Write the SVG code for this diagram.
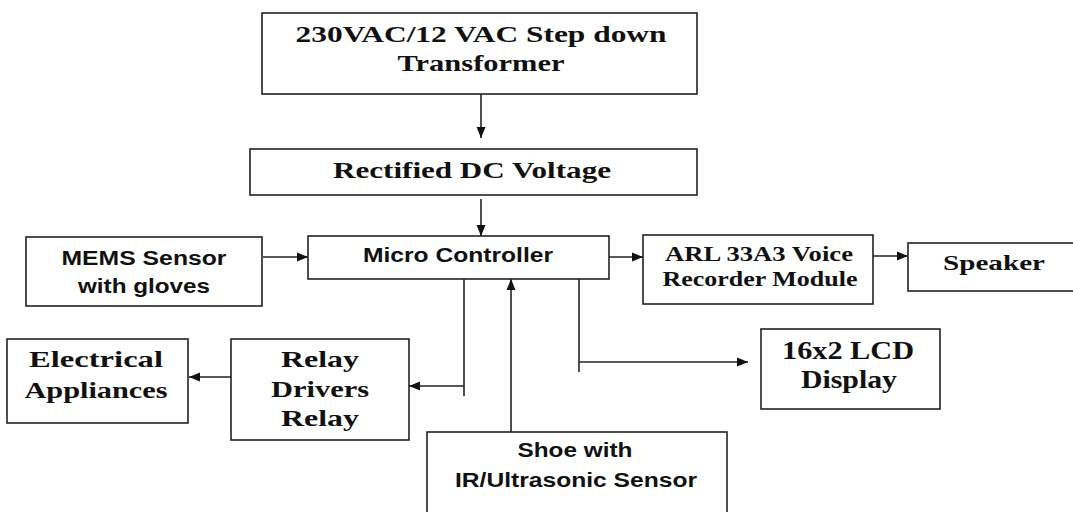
<svg xmlns="http://www.w3.org/2000/svg" width="1073" height="512" viewBox="0 0 1073 512">
<style>
.box{fill:#fff;stroke:#222;stroke-width:1.6}
.ln{fill:none;stroke:#222;stroke-width:1.6}
.ser{font-family:"Liberation Serif","Times New Roman",serif;font-weight:bold;fill:#111;text-anchor:middle}
.san{font-family:"Liberation Sans",Arial,sans-serif;font-weight:bold;fill:#111;text-anchor:middle}
</style>
<defs>
<marker id="ah" markerUnits="userSpaceOnUse" markerWidth="12" markerHeight="10" refX="11" refY="5" orient="auto">
<path d="M0,0.5 L11,5 L0,9.5 z" fill="#111"/>
</marker>
</defs>
<rect width="1073" height="512" fill="#fff"/>
<g id="connectors">
<line class="ln" x1="481" y1="94" x2="481" y2="138" marker-end="url(#ah)"/>
<line class="ln" x1="481" y1="199" x2="481" y2="236" marker-end="url(#ah)"/>
<line class="ln" x1="263" y1="257" x2="308" y2="257" marker-end="url(#ah)"/>
<line class="ln" x1="609" y1="257" x2="643" y2="257" marker-end="url(#ah)"/>
<line class="ln" x1="873" y1="256" x2="908" y2="256" marker-end="url(#ah)"/>
<line class="ln" x1="464" y1="276" x2="464" y2="396"/>
<line class="ln" x1="464" y1="386" x2="409" y2="386" marker-end="url(#ah)"/>
<line class="ln" x1="243" y1="377" x2="189" y2="377" marker-end="url(#ah)"/>
<line class="ln" x1="511" y1="432" x2="511" y2="279" marker-end="url(#ah)"/>
<line class="ln" x1="579" y1="276" x2="579" y2="372"/>
<line class="ln" x1="579" y1="362" x2="748" y2="362" marker-end="url(#ah)"/>
</g>
<g id="transformer">
<rect class="box" x="262" y="13" width="435" height="81"/>
<text class="ser" x="481" y="42" font-size="24" textLength="371" lengthAdjust="spacingAndGlyphs">230VAC/12 VAC Step down</text>
<text class="ser" x="481" y="71" font-size="24" textLength="167" lengthAdjust="spacingAndGlyphs">Transformer</text>
</g>
<g id="rectifier">
<rect class="box" x="250" y="149" width="447" height="46"/>
<text class="ser" x="472" y="178" font-size="24" textLength="278" lengthAdjust="spacingAndGlyphs">Rectified DC Voltage</text>
</g>
<g id="mems">
<rect class="box" x="26" y="237" width="236" height="69"/>
<text class="san" x="144" y="265" font-size="20" textLength="165" lengthAdjust="spacingAndGlyphs">MEMS Sensor</text>
<text class="san" x="144" y="293" font-size="20" textLength="132" lengthAdjust="spacingAndGlyphs">with gloves</text>
</g>
<g id="microcontroller">
<rect class="box" x="308" y="236" width="301" height="43"/>
<text class="san" x="458" y="262" font-size="20" textLength="190" lengthAdjust="spacingAndGlyphs">Micro Controller</text>
</g>
<g id="voice">
<rect class="box" x="643" y="235" width="230" height="69"/>
<text class="ser" x="759" y="261" font-size="20" textLength="188" lengthAdjust="spacingAndGlyphs">ARL 33A3 Voice</text>
<text class="ser" x="760" y="286" font-size="20" textLength="195" lengthAdjust="spacingAndGlyphs">Recorder Module</text>
</g>
<g id="speaker">
<rect class="box" x="908" y="243" width="170" height="48"/>
<text class="ser" x="994" y="270" font-size="21" textLength="102" lengthAdjust="spacingAndGlyphs">Speaker</text>
</g>
<g id="relay">
<rect class="box" x="231" y="339" width="178" height="101"/>
<text class="ser" x="320" y="367" font-size="24" textLength="78" lengthAdjust="spacingAndGlyphs">Relay</text>
<text class="ser" x="320" y="397" font-size="24" textLength="98" lengthAdjust="spacingAndGlyphs">Drivers</text>
<text class="ser" x="320" y="426" font-size="24" textLength="78" lengthAdjust="spacingAndGlyphs">Relay</text>
</g>
<g id="appliances">
<rect class="box" x="7" y="339" width="181" height="84"/>
<text class="ser" x="96" y="367" font-size="24" textLength="134" lengthAdjust="spacingAndGlyphs">Electrical</text>
<text class="ser" x="96" y="398" font-size="24" textLength="143" lengthAdjust="spacingAndGlyphs">Appliances</text>
</g>
<g id="lcd">
<rect class="box" x="761" y="329" width="179" height="80"/>
<text class="ser" x="848" y="359" font-size="25" textLength="132" lengthAdjust="spacingAndGlyphs">16x2 LCD</text>
<text class="ser" x="849" y="388" font-size="25" textLength="96" lengthAdjust="spacingAndGlyphs">Display</text>
</g>
<g id="shoe">
<rect class="box" x="427" y="432" width="300" height="90"/>
<text class="san" x="575" y="457" font-size="20" textLength="115" lengthAdjust="spacingAndGlyphs">Shoe with</text>
<text class="san" x="576" y="487" font-size="20" textLength="242" lengthAdjust="spacingAndGlyphs">IR/Ultrasonic Sensor</text>
</g>
</svg>
